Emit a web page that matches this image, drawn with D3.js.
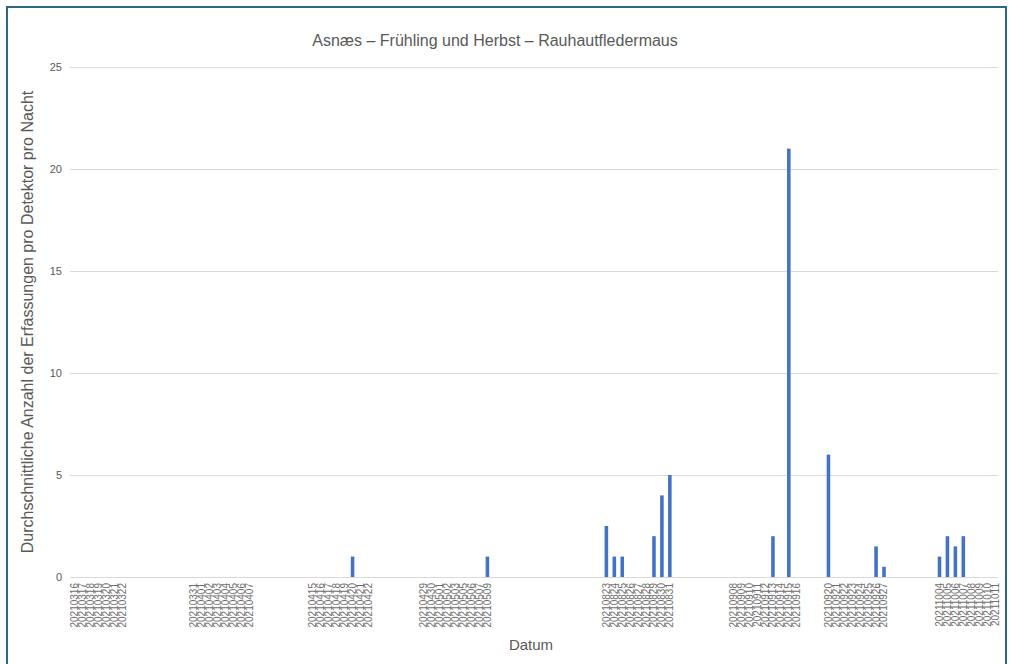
<!DOCTYPE html>
<html>
<head>
<meta charset="utf-8">
<script src="https://cdn.jsdelivr.net/npm/d3@7"></script>
<style>
  html, body { margin: 0; padding: 0; background: #fff; }
  svg { display: block; font-family: "Liberation Sans", Arial, sans-serif; }
</style>
</head>
<body>
<svg id="chart" width="1013" height="664"></svg>
<script>
// Nights in the sequence; empty strings are blank rows between survey periods
const dates = [
  "20210316","20210317","20210318","20210319","20210320","20210321","20210322",
  "","","","","","","","",
  "20210331","20210401","20210402","20210403","20210404","20210405","20210406","20210407",
  "","","","","","","",
  "20210415","20210416","20210417","20210418","20210419","20210420","20210421","20210422",
  "","","","","","",
  "20210429","20210430","20210501","20210502","20210503","20210505","20210506","20210507","20210509",
  "","","","","","","","","","","","","","",
  "20210823","20210824","20210825","20210826","20210827","20210828","20210829","20210830","20210831",
  "","","","","","","",
  "20210908","20210909","20210910","20210911","20210912","20210913","20210914","20210915","20210916",
  "","","",
  "20210920","20210921","20210922","20210923","20210924","20210925","20210926","20210927",
  "","","","","","",
  "20211004","20211005","20211006","20211007","20211008","20211009","20211010","20211011"
];

// Mean detections per detector per night, keyed by night
const nightValues = {
  "20210420": 1,
  "20210509": 1,
  "20210823": 2.5, "20210824": 1, "20210825": 1,
  "20210829": 2, "20210830": 4, "20210831": 5,
  "20210913": 2, "20210915": 21,
  "20210920": 6,
  "20210926": 1.5, "20210927": 0.5,
  "20211004": 1, "20211005": 2, "20211006": 1.5, "20211007": 2
};

const yTicks = [0, 5, 10, 15, 20, 25];

const title = "Asnæs – Frühling und Herbst – Rauhautfledermaus";
const yTitle = "Durchschnittliche Anzahl der Erfassungen pro Detektor pro Nacht";
const xTitle = "Datum";

const svg = d3.select("#chart");
const W = 1013, H = 664;
const plot = { left: 71, right: 999, top: 67, bottom: 577 };

// outer frame
svg.append("rect")
  .attr("x", 7).attr("y", 7).attr("width", W - 14).attr("height", H)
  .attr("fill", "#fff").attr("stroke", "#2a6a80").attr("stroke-width", 2);

const rows = dates.map((d, i) => ({ i, date: d, value: d ? (nightValues[d] || 0) : null }));

const x = d3.scaleBand()
  .domain(rows.map(r => r.i))
  .range([plot.left, plot.right])
  .paddingInner(0.55)
  .paddingOuter(0.275);

const y = d3.scaleLinear().domain([0, 25]).range([plot.bottom, plot.top]);

// gridlines
svg.append("g")
  .selectAll("line")
  .data(yTicks)
  .join("line")
  .attr("x1", plot.left - 1).attr("x2", plot.right - 1)
  .attr("y1", d => Math.round(y(d)) + 0.5).attr("y2", d => Math.round(y(d)) + 0.5)
  .attr("stroke", "#d9d9d9").attr("stroke-width", 1);

// y tick labels
const yAxis = d3.axisLeft(y).tickValues(yTicks).tickSize(0).tickPadding(9);
const gy = svg.append("g").attr("transform", `translate(${plot.left},0)`).call(yAxis);
gy.select(".domain").remove();
gy.selectAll("text")
  .attr("fill", "#595959")
  .style("font-size", "11px")
  .style("font-family", "'Liberation Sans', Arial, sans-serif");

// bars
svg.append("g")
  .selectAll("rect")
  .data(rows.filter(r => r.value > 0))
  .join("rect")
  .attr("x", r => x(r.i))
  .attr("width", x.bandwidth())
  .attr("y", r => y(r.value))
  .attr("height", r => y(0) - y(r.value))
  .attr("fill", "#4472c4");

// x tick labels, rotated
const xAxis = d3.axisBottom(x)
  .tickValues(rows.filter(r => r.date).map(r => r.i))
  .tickFormat(i => dates[i])
  .tickSize(0).tickPadding(0);
const gx = svg.append("g").attr("transform", `translate(0,${plot.bottom})`).call(xAxis);
gx.select(".domain").remove();
gx.selectAll("text")
  .attr("fill", "#6e6e6e")
  .style("font-size", "10px")
  .style("font-family", "'Liberation Sans', Arial, sans-serif")
  .attr("text-anchor", "end")
  .attr("dy", "0.35em")
  .attr("transform", "translate(0,6) rotate(-90)")
  .attr("x", 0).attr("y", 0);

// titles
svg.append("text")
  .attr("x", 495).attr("y", 46)
  .attr("text-anchor", "middle")
  .attr("fill", "#595959")
  .style("font-size", "16px")
  .text(title);

svg.append("text")
  .attr("transform", `translate(33,${(plot.top + plot.bottom) / 2}) rotate(-90)`)
  .attr("text-anchor", "middle")
  .attr("fill", "#595959")
  .style("font-size", "16px")
  .text(yTitle);

svg.append("text")
  .attr("x", 531).attr("y", 650)
  .attr("text-anchor", "middle")
  .attr("fill", "#595959")
  .style("font-size", "15px")
  .text(xTitle);
</script>
</body>
</html>
